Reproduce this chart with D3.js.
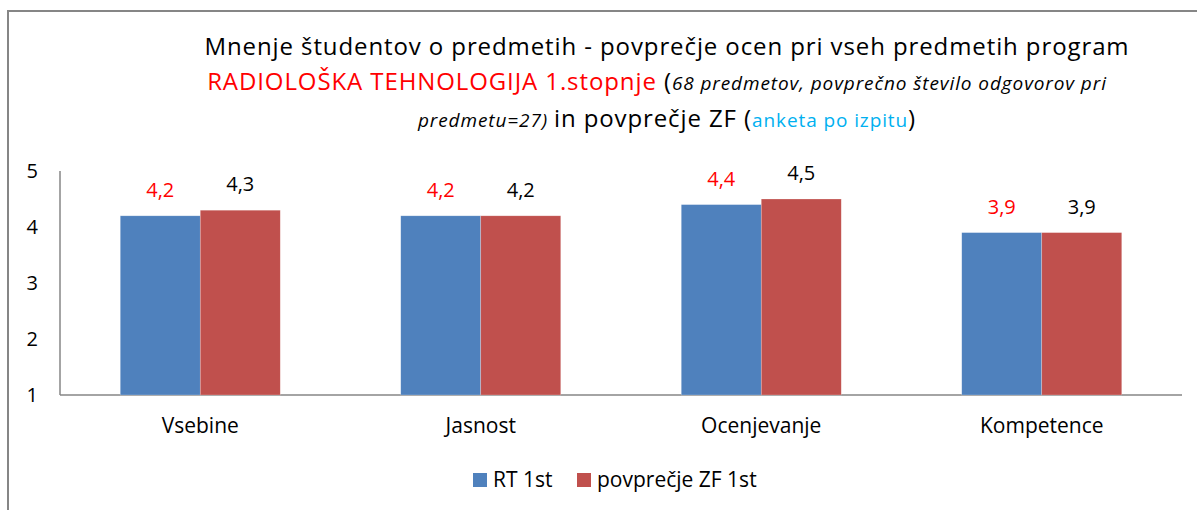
<!DOCTYPE html>
<meta charset="utf-8">
<style>
  body { margin: 0; background: #fff; }
  svg text { font-family: "Open Sans", Lato, sans-serif; font-variant-ligatures: none; }
</style>
<body>
<div id="chart"></div>
<script src="https://d3js.org/d3.v7.min.js"></script>
<script>
const categories = ["Vsebine", "Jasnost", "Ocenjevanje", "Kompetence"];
const seriesNames = ["RT 1st", "povprečje ZF 1st"];
const rtValues = [4.2, 4.2, 4.4, 3.9];
const zfValues = [4.3, 4.2, 4.5, 3.9];
const yTicks = [1, 2, 3, 4, 5];

const seriesColors = ["#4F81BD", "#C0504D"];
const labelColors = ["#FF0000", "#000000"];

const width = 1197, height = 510;
const svg = d3.select("#chart").append("svg")
  .attr("width", width)
  .attr("height", height);

// outer chart border (cropped on right/bottom)
svg.append("rect")
  .attr("x", 8).attr("y", 11)
  .attr("width", 1330).attr("height", 560)
  .attr("fill", "none")
  .attr("stroke", "#868686")
  .attr("stroke-width", 2);

// title
const title = svg.append("text")
  .attr("text-anchor", "middle")
  .attr("x", 667)
  .style("letter-spacing", "0.9px");

title.append("tspan").attr("x", 667).attr("y", 55)
  .style("font-size", "24px").attr("fill", "#000")
  .text("Mnenje študentov o predmetih - povprečje ocen pri vseh predmetih program");

// line 2 sits a bit left of centre (trailing space after "pri")
const l2 = title.append("tspan").attr("x", 657).attr("y", 90);
l2.append("tspan").attr("fill", "#FF0000").style("font-size", "24px").text("RADIOLOŠKA TEHNOLOGIJA 1.stopnje ");
l2.append("tspan").attr("fill", "#000").style("font-size", "24px").text("(");
l2.append("tspan").attr("fill", "#000").style("font-size", "19px").style("font-style", "italic")
  .text("68 predmetov, povprečno število odgovorov pri");

const l3 = title.append("tspan").attr("x", 667).attr("y", 127);
l3.append("tspan").attr("fill", "#000").style("font-size", "19px").style("font-style", "italic").text("predmetu=27) ");
l3.append("tspan").attr("fill", "#000").style("font-size", "24px").text("in povprečje ZF (");
l3.append("tspan").attr("fill", "#00B0F0").style("font-size", "19px").text("anketa po izpitu");
l3.append("tspan").attr("fill", "#000").style("font-size", "24px").text(")");

// scales
const plotLeft = 60, plotRight = 1182;
const y = d3.scaleLinear().domain([1, 5]).range([395, 171]);
const x0 = d3.scaleBand().domain(categories).range([plotLeft, plotRight]).padding(0);
const x1 = d3.scaleBand().domain(seriesNames).range([0, x0.bandwidth()])
  .paddingInner(0).paddingOuter(0.753);

// axes lines
svg.append("line")
  .attr("x1", plotLeft).attr("x2", plotLeft)
  .attr("y1", y(5)).attr("y2", y(1))
  .attr("stroke", "#868686").attr("stroke-width", 1.5);

svg.append("line")
  .attr("x1", plotLeft).attr("x2", plotRight)
  .attr("y1", y(1)).attr("y2", y(1))
  .attr("stroke", "#868686").attr("stroke-width", 1.5);

// y tick labels
svg.selectAll(".ytick")
  .data(yTicks)
  .join("text")
  .attr("class", "ytick")
  .attr("x", 38)
  .attr("y", d => y(d) + 7)
  .attr("text-anchor", "end")
  .style("font-size", "20px")
  .text(d => d);

// bars
const rows = categories.map((c, i) => ({ cat: c, vals: [rtValues[i], zfValues[i]] }));
const groups = svg.selectAll(".grp")
  .data(rows)
  .join("g")
  .attr("class", "grp")
  .attr("transform", d => `translate(${x0(d.cat)},0)`);

groups.selectAll("rect")
  .data(d => d.vals.map((v, k) => ({ v, k })))
  .join("rect")
  .attr("x", d => x1(seriesNames[d.k]))
  .attr("y", d => y(d.v))
  .attr("width", x1.bandwidth())
  .attr("height", d => y(1) - y(d.v))
  .attr("fill", d => seriesColors[d.k])
  .attr("stroke", "#fff")
  .attr("stroke-opacity", 0.4)
  .attr("stroke-width", 0.6);

groups.selectAll(".val")
  .data(d => d.vals.map((v, k) => ({ v, k })))
  .join("text")
  .attr("class", "val")
  .attr("x", d => x1(seriesNames[d.k]) + x1.bandwidth() / 2)
  .attr("y", d => y(d.v) - 19)
  .attr("text-anchor", "middle")
  .attr("fill", d => labelColors[d.k])
  .style("font-size", "20px")
  .text(d => d.v.toFixed(1).replace(".", ","));

// category labels
svg.selectAll(".cat")
  .data(categories)
  .join("text")
  .attr("class", "cat")
  .attr("x", d => x0(d) + x0.bandwidth() / 2)
  .attr("y", 433)
  .attr("text-anchor", "middle")
  .style("font-size", "21px")
  .text(d => d);

// legend
const legendX = [473, 577];
const legend = svg.selectAll(".leg")
  .data(seriesNames)
  .join("g")
  .attr("class", "leg")
  .attr("transform", (d, i) => `translate(${legendX[i]},473)`);

legend.append("rect")
  .attr("width", 14).attr("height", 14)
  .attr("fill", (d, i) => seriesColors[i]);

legend.append("text")
  .attr("x", 20).attr("y", 14)
  .style("font-size", "21px")
  .text(d => d);
</script>
</body>
